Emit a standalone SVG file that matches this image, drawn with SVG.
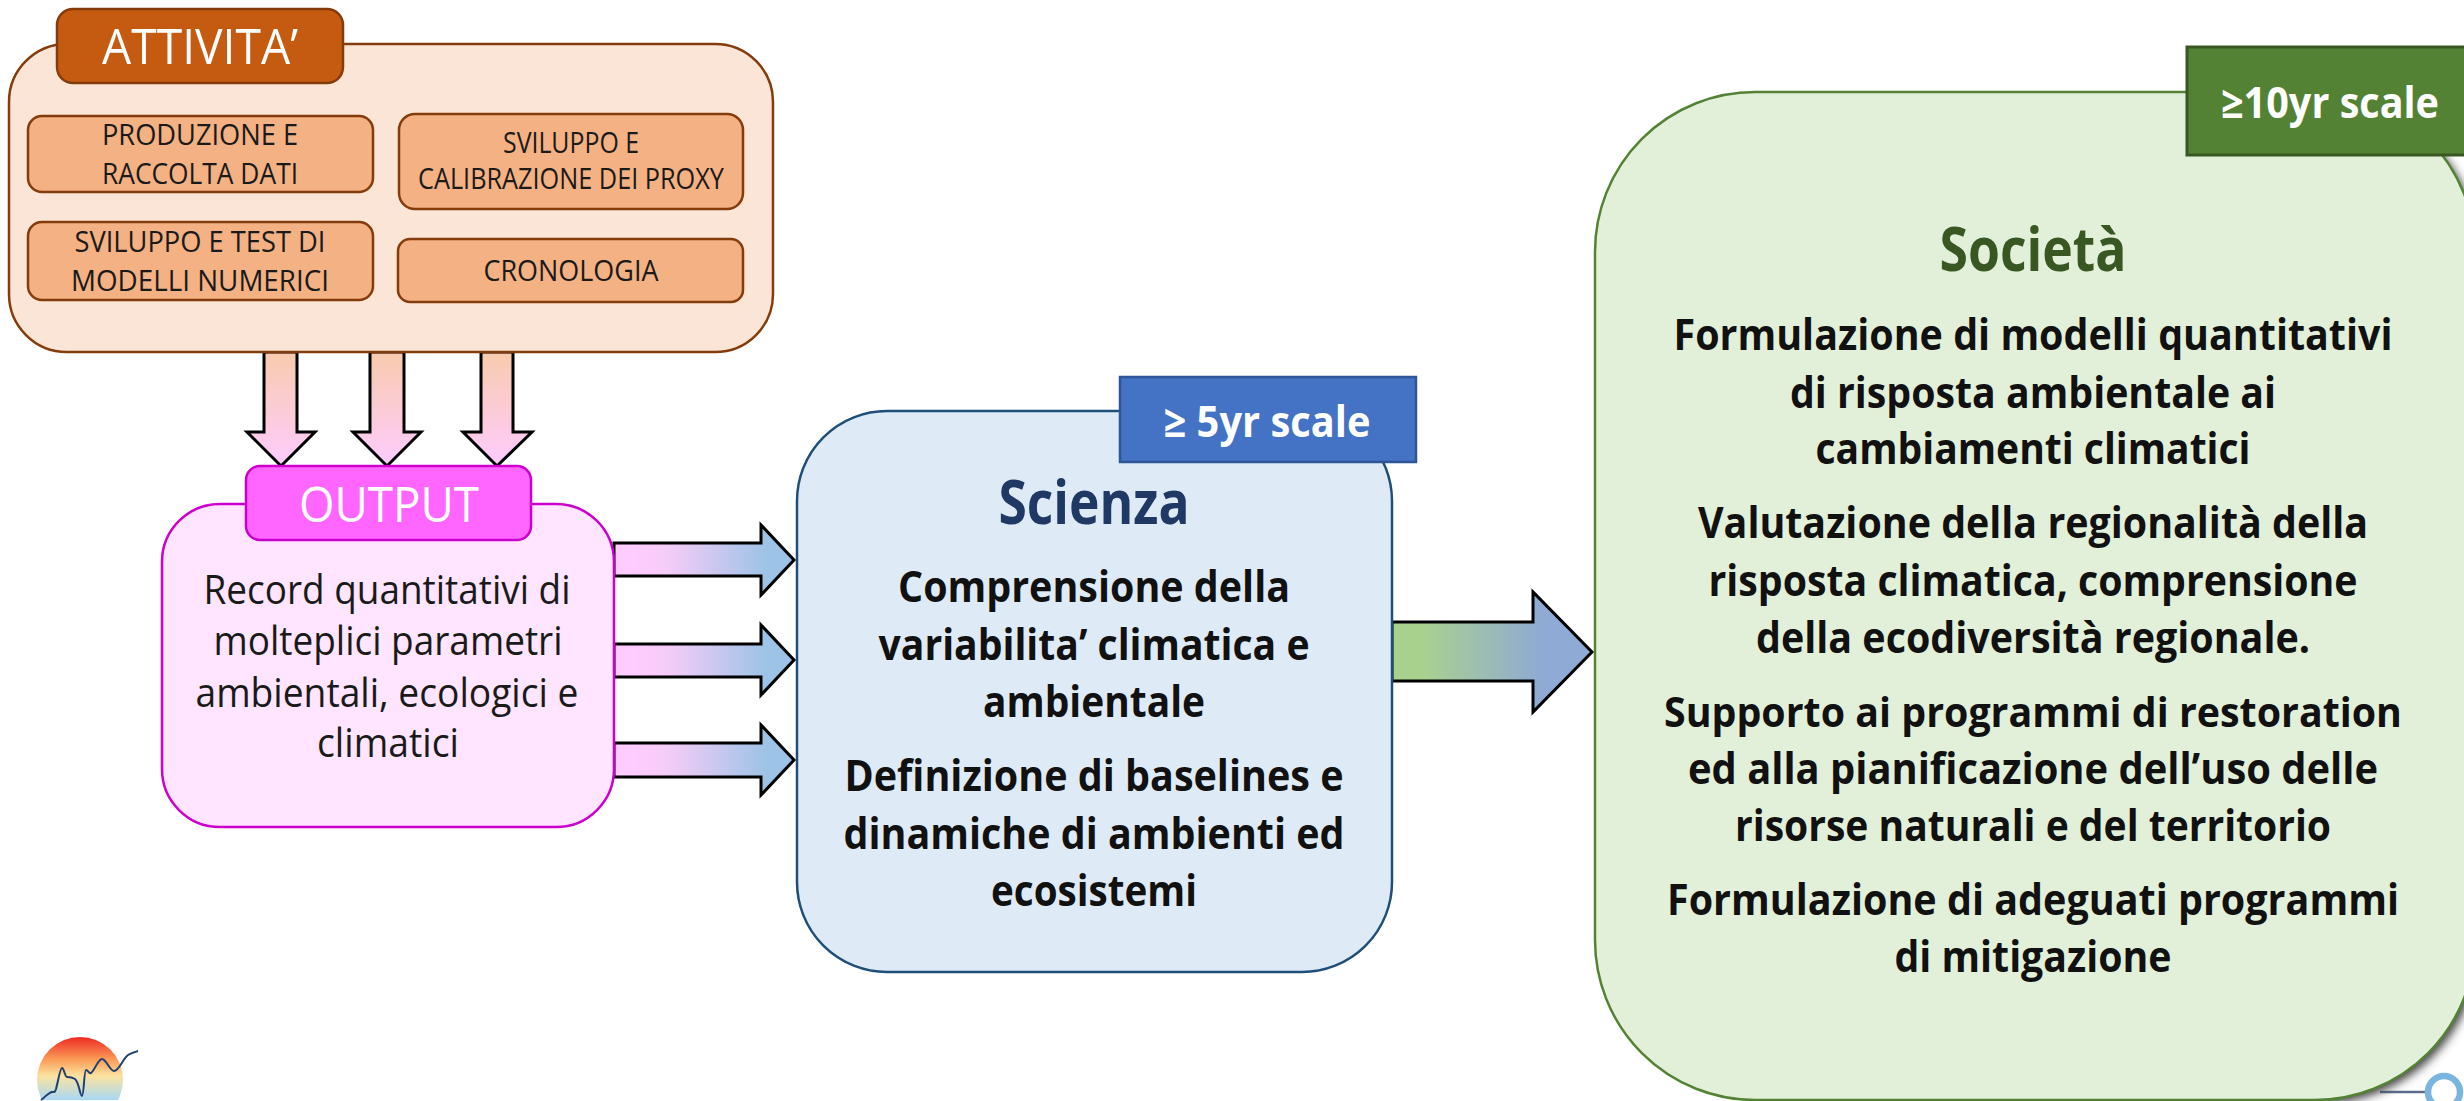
<svg xmlns="http://www.w3.org/2000/svg" width="2464" height="1101" viewBox="0 0 2464 1101">
<style>
text{font-family:"Open Sans","Liberation Sans",sans-serif;text-anchor:middle;font-variant-ligatures:none}
.a{stroke:#000;stroke-width:3;stroke-linejoin:miter}
.in{fill:#f4b183;stroke:#843c0c;stroke-width:2.5}
.it{font-size:29px;fill:#1a1a1a}
.ot{font-size:40px;fill:#1a1a1a}
.bt{font-size:43px;font-weight:700;fill:#111}
.tt{font-size:43px;font-weight:700;fill:#fff}
</style>
<defs>
<linearGradient id="gd" x1="0" y1="0" x2="0" y2="1"><stop offset="0" stop-color="#f8cbad"/><stop offset="1" stop-color="#ffccff"/></linearGradient>
<linearGradient id="gr" x1="0" y1="0" x2="1" y2="0"><stop offset="0.1" stop-color="#ffccff"/><stop offset="0.3" stop-color="#f5ccf8"/><stop offset="0.85" stop-color="#9dc3e6"/></linearGradient>
<linearGradient id="gb" x1="0" y1="0" x2="1" y2="0"><stop offset="0.15" stop-color="#a9d18e"/><stop offset="0.75" stop-color="#8faad4"/></linearGradient>
<linearGradient id="sun" gradientUnits="userSpaceOnUse" x1="0" y1="1037" x2="0" y2="1100"><stop offset="0" stop-color="#ee2a24"/><stop offset="0.35" stop-color="#fb9a55"/><stop offset="0.62" stop-color="#fbe3a0"/><stop offset="1" stop-color="#a8d8f5"/></linearGradient>
<filter id="blur" x="-20%" y="-20%" width="140%" height="140%"><feGaussianBlur stdDeviation="5"/></filter>
<clipPath id="logoclip"><rect x="0" y="1030" width="200" height="70"/></clipPath>
<clipPath id="shadowclip"><rect x="2300" y="100" width="164" height="1001"/></clipPath>
</defs>
<rect width="2464" height="1101" fill="#fff"/>

<g id="logo">
<circle cx="80" cy="1080" r="43" fill="url(#sun)" clip-path="url(#logoclip)"/>
<path d="M41 1100C45 1097 48 1093 52 1092C55 1092 55 1092 56 1089C58 1082 60 1068 62 1068C64 1068 65 1077 67 1077C70 1077 72 1077 75 1079C79 1082 80 1096 82 1096C84 1096 84 1070 86 1070C88 1070 89 1074 91 1073C95 1070 98 1059 102 1059C106 1059 110 1071 114 1071C119 1071 122 1060 128 1055C131 1053 135 1052 138 1051" fill="none" stroke="#1f3f70" stroke-width="2" stroke-linejoin="round"/>
</g>

<g id="ring">
<path d="M2380 1092H2426" stroke="#5b6b8c" stroke-width="2.5" fill="none"/>
<circle cx="2444" cy="1092" r="16" fill="#fff" stroke="#7ab5e0" stroke-width="6.5"/>
</g>

<g id="connectors">
<path class="a" fill="url(#gd)" d="M264 352H297V432H315L281 466L247 432H264Z"/>
<path class="a" fill="url(#gd)" d="M370 352H404V432H421L387 466L353 432H370Z"/>
<path class="a" fill="url(#gd)" d="M481 352H513V432H532L497 466L463 432H481Z"/>
<path class="a" fill="url(#gr)" d="M614 543H761V525L794 560L761 595V576H614Z"/>
<path class="a" fill="url(#gr)" d="M614 644H761V625L794 660L761 695V677H614Z"/>
<path class="a" fill="url(#gr)" d="M614 743H761V725L794 760L761 795V777H614Z"/>
<path class="a" fill="url(#gb)" d="M1392 622H1533V592L1592 652L1533 712V681H1392Z"/>
</g>

<g id="attivita">
<rect x="9" y="44" width="764" height="308" rx="58" fill="#fbe5d6" stroke="#843c0c" stroke-width="2.5"/>
<rect x="57" y="9" width="286" height="74" rx="16" fill="#c55a11" stroke="#843c0c" stroke-width="2.5"/>
<text x="200" y="64" font-size="50" fill="#fff" textLength="196" lengthAdjust="spacingAndGlyphs">ATTIVITA’</text>
</g>
<g id="produzione">
<rect class="in" x="28" y="116" width="345" height="76" rx="14"/>
<text class="it" x="200" y="145" textLength="196" lengthAdjust="spacingAndGlyphs">PRODUZIONE E</text>
<text class="it" x="200" y="184" textLength="196" lengthAdjust="spacingAndGlyphs">RACCOLTA DATI</text>
</g>
<g id="calibrazione">
<rect class="in" x="399" y="114" width="344" height="95" rx="16"/>
<text class="it" x="571" y="153" textLength="136" lengthAdjust="spacingAndGlyphs">SVILUPPO E</text>
<text class="it" x="571" y="189" textLength="306" lengthAdjust="spacingAndGlyphs">CALIBRAZIONE DEI PROXY</text>
</g>
<g id="modelli">
<rect class="in" x="28" y="222" width="345" height="78" rx="14"/>
<text class="it" x="200" y="252" textLength="251" lengthAdjust="spacingAndGlyphs">SVILUPPO E TEST DI</text>
<text class="it" x="200" y="291" textLength="258" lengthAdjust="spacingAndGlyphs">MODELLI NUMERICI</text>
</g>
<g id="cronologia">
<rect class="in" x="398" y="239" width="345" height="63" rx="12"/>
<text class="it" x="571" y="281" textLength="175" lengthAdjust="spacingAndGlyphs">CRONOLOGIA</text>
</g>

<g id="output">
<rect x="162" y="504" width="452" height="323" rx="58" fill="#ffe5ff" stroke="#cc00cc" stroke-width="2.5"/>
<rect x="246" y="466" width="285" height="74" rx="14" fill="#ff66ff" stroke="#cc00cc" stroke-width="2.5"/>
<text x="389" y="522" font-size="50" fill="#fff" textLength="180" lengthAdjust="spacingAndGlyphs">OUTPUT</text>
<text class="ot" x="387" y="604" textLength="367" lengthAdjust="spacingAndGlyphs">Record quantitativi di</text>
<text class="ot" x="388" y="655" textLength="349" lengthAdjust="spacingAndGlyphs">molteplici parametri</text>
<text class="ot" x="387" y="707" textLength="383" lengthAdjust="spacingAndGlyphs">ambientali, ecologici e</text>
<text class="ot" x="388" y="757" textLength="142" lengthAdjust="spacingAndGlyphs">climatici</text>
</g>

<g id="scienza">
<rect x="797" y="411" width="595" height="561" rx="90" fill="#deebf7" stroke="#1f4e79" stroke-width="2.5"/>
<rect x="1120" y="377" width="296" height="85" fill="#4472c4" stroke="#2f5597" stroke-width="2.5"/>
<text class="tt" x="1267" y="437" textLength="207" lengthAdjust="spacingAndGlyphs">≥ 5yr scale</text>
<text x="1094" y="524" font-size="60" font-weight="700" fill="#203864" textLength="191" lengthAdjust="spacingAndGlyphs">Scienza</text>
<text class="bt" x="1094" y="602" textLength="392" lengthAdjust="spacingAndGlyphs">Comprensione della</text>
<text class="bt" x="1094" y="660" textLength="431" lengthAdjust="spacingAndGlyphs">variabilita’ climatica e</text>
<text class="bt" x="1094" y="717" textLength="222" lengthAdjust="spacingAndGlyphs">ambientale</text>
<text class="bt" x="1094" y="791" textLength="499" lengthAdjust="spacingAndGlyphs">Definizione di baselines e</text>
<text class="bt" x="1094" y="849" textLength="501" lengthAdjust="spacingAndGlyphs">dinamiche di ambienti ed</text>
<text class="bt" x="1094" y="906" textLength="206" lengthAdjust="spacingAndGlyphs">ecosistemi</text>
</g>

<g id="societa">
<g clip-path="url(#shadowclip)"><rect x="1599" y="96" width="880" height="1008" rx="160" fill="#444" filter="url(#blur)"/></g>
<rect x="1595" y="92" width="880" height="1008" rx="160" fill="#e2f0d9" stroke="#548235" stroke-width="2.5"/>
<rect x="2187" y="47" width="290" height="108" fill="#548235" stroke="#385723" stroke-width="3"/>
<text class="tt" x="2330" y="118" textLength="218" lengthAdjust="spacingAndGlyphs">≥10yr scale</text>
<text x="2033" y="271" font-size="60" font-weight="700" fill="#385723" textLength="187" lengthAdjust="spacingAndGlyphs">Società</text>
<text class="bt" x="2033" y="350" textLength="719" lengthAdjust="spacingAndGlyphs">Formulazione di modelli quantitativi</text>
<text class="bt" x="2033" y="408" textLength="486" lengthAdjust="spacingAndGlyphs">di risposta ambientale ai</text>
<text class="bt" x="2033" y="464" textLength="435" lengthAdjust="spacingAndGlyphs">cambiamenti climatici</text>
<text class="bt" x="2033" y="538" textLength="670" lengthAdjust="spacingAndGlyphs">Valutazione della regionalità della</text>
<text class="bt" x="2033" y="596" textLength="649" lengthAdjust="spacingAndGlyphs">risposta climatica, comprensione</text>
<text class="bt" x="2033" y="653" textLength="554" lengthAdjust="spacingAndGlyphs">della ecodiversità regionale.</text>
<text class="bt" x="2033" y="727" style="font-size:42px" textLength="738" lengthAdjust="spacingAndGlyphs">Supporto ai programmi di restoration</text>
<text class="bt" x="2033" y="784" textLength="690" lengthAdjust="spacingAndGlyphs">ed alla pianificazione dell’uso delle</text>
<text class="bt" x="2033" y="841" textLength="596" lengthAdjust="spacingAndGlyphs">risorse naturali e del territorio</text>
<text class="bt" x="2033" y="915" textLength="732" lengthAdjust="spacingAndGlyphs">Formulazione di adeguati programmi</text>
<text class="bt" x="2033" y="972" textLength="277" lengthAdjust="spacingAndGlyphs">di mitigazione</text>
</g>
</svg>
